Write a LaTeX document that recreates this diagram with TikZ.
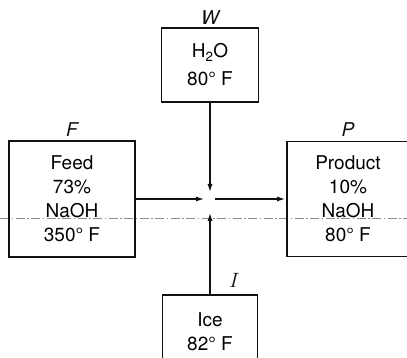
\documentclass[tikz,border=0pt]{standalone}
\usepackage{fontspec}
\setmainfont{TeX Gyre Heros}
\usetikzlibrary{positioning,arrows.meta}
\definecolor{flowInk}{HTML}{111111}
\definecolor{flowAxis}{HTML}{8C8C8C}
\tikzset{
    flowBox/.style={
        rectangle,
        draw=flowInk,
        line width=1.8pt,
        align=center,
        font=\fontsize{19}{24}\selectfont,
        inner sep=0pt
    },
    % Streams
    flowArrow/.style={-{Latex[length=9pt,width=5pt]}, line width=1.8pt, draw=flowInk},
    flowName/.style={font=\fontsize{19}{20}\selectfont\itshape, text=flowInk, inner sep=1pt},
    flowAxisLine/.style={draw=flowAxis, line width=0.8pt, dash pattern=on 9pt off 2.5pt on 1.5pt off 2.5pt}
}

\begin{document}
\begin{tikzpicture}[x=1pt, y=-1pt]
    \useasboundingbox (0,0) rectangle (407,358);
    \clip (0,0) rectangle (407,358);
    \fill[white] (0,0) rectangle (407,358);
    \draw[flowAxisLine] (0,218) -- (407,218);
    \node[flowBox, minimum width=97pt, minimum height=74pt, font=\fontsize{19}{28}\selectfont] (water) at (210,65) {H\textsubscript{2}O\\80° F};
    \node[flowBox, minimum width=126pt, minimum height=116pt] (feed) at (72,199) {Feed\\73\%\\NaOH\\350° F};
    \node[flowBox, minimum width=122pt, minimum height=115pt] (product) at (348,199) {Product\\10\%\\NaOH\\80° F};
    \node[flowBox, minimum width=95pt, minimum height=74pt] (ice) at (210,332) {Ice\\82° F};
    \coordinate (mix) at (210,199);
    \draw[flowArrow, shorten >=6pt] (water) -- (mix);
    \draw[flowArrow, shorten >=13pt] (ice) -- (mix);
    \draw[flowArrow, shorten >=5pt] (feed) -- (mix);
    \draw[flowArrow, shorten <=5pt] (mix) -- (product);
    \node[flowName, above=1pt of water] (waterName) {W};
    \node[flowName, above=2pt of feed] (feedName) {F};
    \node[flowName, above=3pt of product] (productName) {P};
    \node[flowName, font=\fontsize{22}{22}\selectfont, above right=5pt and 18pt of ice.north] (iceName) {$I$};
\end{tikzpicture}
\end{document}
